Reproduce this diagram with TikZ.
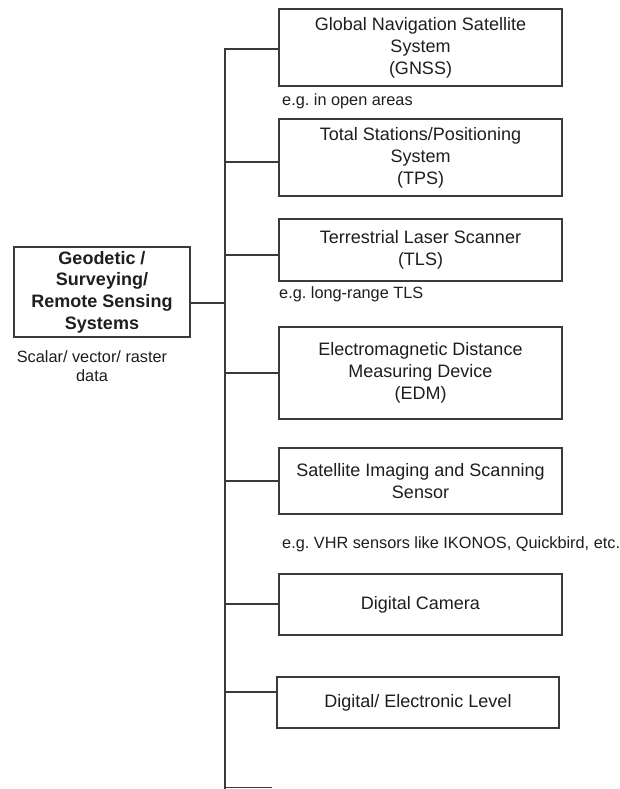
\documentclass[tikz,border=0pt]{standalone}
\usepackage{fontspec}
\setmainfont{Liberation Sans}
\definecolor{ln}{HTML}{3A3A3A}
\definecolor{tx}{HTML}{1E1E1E}
\begin{document}
\frenchspacing
\begin{tikzpicture}[x=1pt,y=-1pt,
  box/.style={draw=ln, line width=1.3pt, inner sep=0pt, align=center, text=tx,
     font=\fontsize{18}{22}\selectfont},
  mainbox/.style={box, font=\fontsize{18}{21.7}\selectfont\bfseries},
  note/.style={inner sep=0pt, text=tx, font=\fontsize{16.3}{19}\selectfont\frenchspacing},
  conn/.style={draw=ln, line width=1.3pt}]
\useasboundingbox[fill=white] (0,0) rectangle (619,789);

\node[mainbox, minimum width=176, minimum height=90] (main) at (102,292)
  {Geodetic /\\Surveying/\\Remote Sensing\\Systems};
\node[note, align=center] (mainnote) at (92,366) {Scalar/ vector/ raster\\data};

\node[box, minimum width=283, minimum height=77] (gnss) at (420.5,47.5)
  {Global Navigation Satellite\\System\\(GNSS)};
\node[note, anchor=west] (gnssnote) at (282,101) {e.g. in open areas};

\node[box, minimum width=283, minimum height=77] (tps) at (420.5,157.5)
  {Total Stations/Positioning\\System\\(TPS)};

\node[box, minimum width=283, minimum height=62] (tls) at (420.5,250)
  {Terrestrial Laser Scanner\\(TLS)};
\node[note, anchor=west] (tlsnote) at (279,294) {e.g. long-range TLS};

\node[box, minimum width=283, minimum height=92] (edm) at (420.5,373)
  {Electromagnetic Distance\\Measuring Device\\(EDM)};

\node[box, minimum width=283, minimum height=66] (sat) at (420.5,481)
  {Satellite Imaging and Scanning\\Sensor};
\node[note, anchor=west] (satnote) at (282,544) {e.g. VHR sensors like IKONOS, Quickbird, etc.};

\node[box, minimum width=283, minimum height=61] (cam) at (420.5,604.5)
  {Digital Camera};

\node[box, minimum width=282, minimum height=51] (lvl) at (418,702.5)
  {Digital/ Electronic Level};

\coordinate (tbot) at (225,789);
\coordinate (stub) at (272,787.5);
\coordinate (gnssj) at ([yshift=-1.5pt]gnss.west);
\coordinate (tpsj) at ([yshift=-4.5pt]tps.west);
\coordinate (tlsj) at ([yshift=-5pt]tls.west);
\coordinate (edmj) at (edm.west);
\coordinate (satj) at (sat.west);
\coordinate (camj) at ([yshift=0.5pt]cam.west);
\coordinate (lvlj) at ([yshift=10.5pt]lvl.west);

\draw[conn] (gnssj) -| (tbot);
\draw[conn] ([yshift=-11pt]main.east) -- ([yshift=-11pt]main.east -| tbot);
\foreach \j in {tpsj,tlsj,edmj,satj,camj,lvlj}
  \draw[conn] (\j) -- (\j -| tbot);
\draw[conn] (tbot |- stub) -- (stub);
\end{tikzpicture}
\end{document}
